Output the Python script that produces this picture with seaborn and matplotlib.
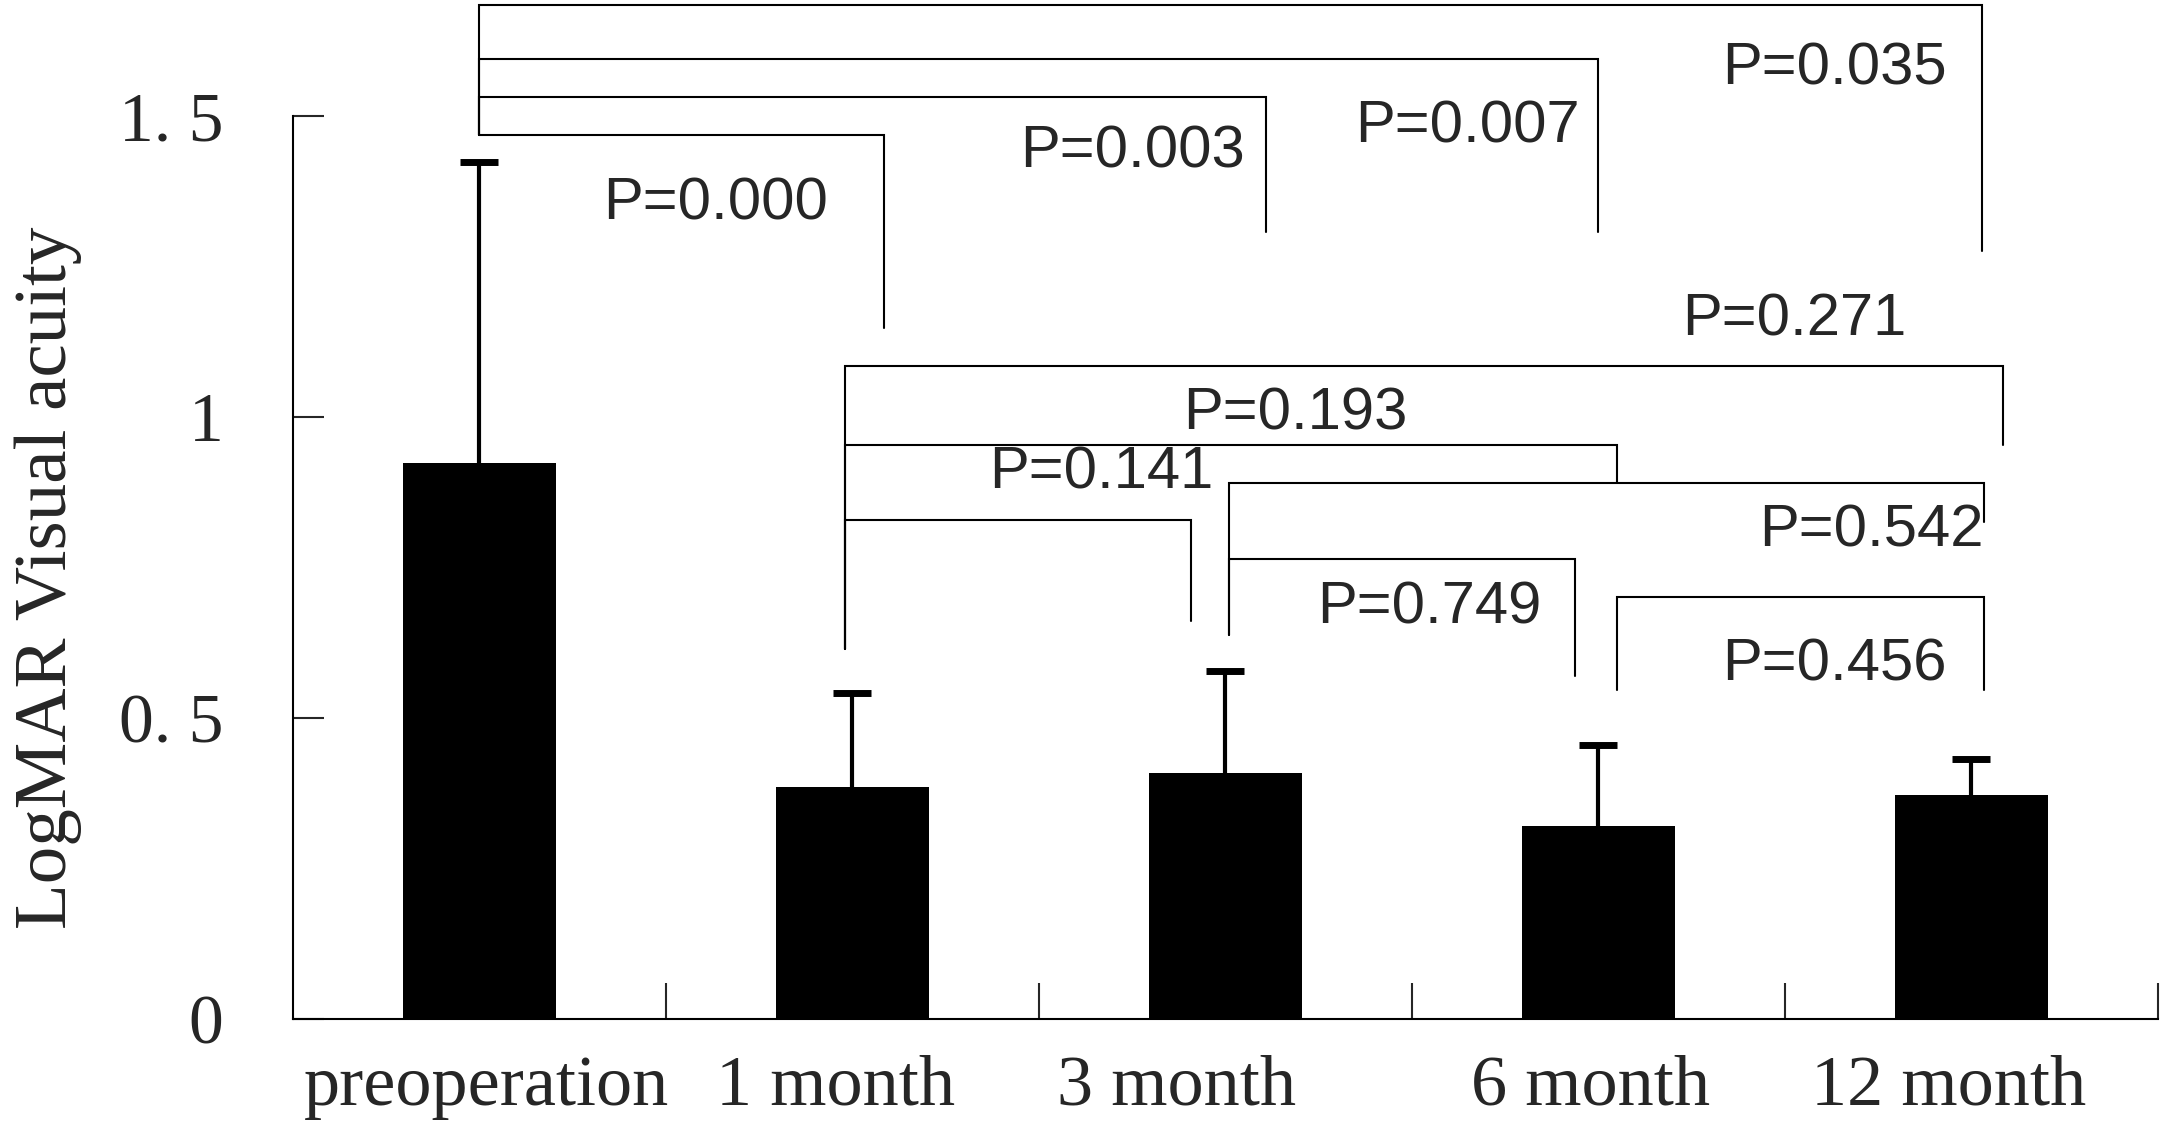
import numpy as np
import pandas as pd
import seaborn as sns
import matplotlib.pyplot as plt

categories = ["preoperation", "1 month", "3 month", "6 month", "12 month"]
mean_logmar = [0.924, 0.385, 0.408, 0.321, 0.372]
sd_logmar = [0.500, 0.156, 0.170, 0.133, 0.059]

# pairwise comparisons: (from group, to group, label)
pairs = [
    (0, 4, "P=0.035"),
    (0, 3, "P=0.007"),
    (0, 2, "P=0.003"),
    (0, 1, "P=0.000"),
    (1, 4, "P=0.271"),
    (1, 3, "P=0.193"),
    (1, 2, "P=0.141"),
    (2, 4, "P=0.542"),
    (2, 3, "P=0.749"),
    (3, 4, "P=0.456"),
]

# bracket layout: height, left dx, right dx, left leg end, right leg end, text x, text y
bracket_layout = [
    (1.685, 0.00, 0.03, 1.468, 1.275, 3.633, 1.578),
    (1.594, 0.00, 0.00, 1.468, 1.307, 2.648, 1.482),
    (1.532, 0.00, 0.11, 1.468, 1.307, 1.752, 1.440),
    (1.468, 0.00, 0.085, 1.468, 1.147, 0.633, 1.353),
    (1.085, -0.02, 0.085, 0.615, 0.954, 3.526, 1.161),
    (0.954, -0.02, 0.05, 0.615, 0.890, 2.189, 1.005),
    (0.828, -0.02, -0.093, 0.615, 0.661, 1.667, 0.906),
    (0.890, 0.01, 0.033, 0.638, 0.826, 3.733, 0.810),
    (0.764, 0.01, -0.063, 0.638, 0.569, 2.548, 0.683),
    (0.700, 0.05, 0.033, 0.546, 0.546, 3.633, 0.587),
]

xlabel_pos = [0.019, 0.956, 1.87, 2.98, 3.94]

sns.set_style("white")
serif = ["Liberation Serif", "DejaVu Serif"]
sans = ["Liberation Sans", "DejaVu Sans"]
plt.rcParams["font.family"] = serif

df = pd.DataFrame({"group": categories, "logmar": mean_logmar})

fig = plt.figure(figsize=(21.66, 11.43), dpi=100)
ax = fig.add_axes([0.1352, 0.1087, 0.8610, 0.7899])

sns.barplot(data=df, x="group", y="logmar", color="black", saturation=1,
            width=0.41, linewidth=0, errorbar=None, ax=ax)

# upper-only SD bars: stem plus a single cap at the top
xs = np.arange(len(categories))
tops = np.array(mean_logmar) + np.array(sd_logmar)
ax.errorbar(xs, mean_logmar, yerr=[np.zeros(len(sd_logmar)), sd_logmar],
            fmt="none", ecolor="black", elinewidth=3, capsize=0)
ax.plot(xs, tops, ls="none", marker="_", ms=28, mew=5, color="black")

for (i, j, p), (h, dl, dr, lb, rb, tx, ty) in zip(pairs, bracket_layout):
    xl, xr = i + dl, j + dr
    ax.plot([xl, xl, xr, xr], [lb, h, h, rb], color="black", lw=1.5,
            clip_on=False, solid_joinstyle="miter")
    ax.text(tx, ty, p, ha="center", va="center", fontsize=43, family=sans)

ax.set_xlim(-0.5, 4.5)
ax.set_ylim(0, 1.5)
sns.despine(ax=ax)
for s in ("left", "bottom"):
    ax.spines[s].set_linewidth(1.5)
    ax.spines[s].set_color("black")

ax.set_yticks([0, 0.5, 1, 1.5], labels=["0", "0. 5", "1", "1. 5"])
ax.tick_params(axis="y", direction="in", length=22, width=1.5, pad=50,
               labelsize=50, left=True)
ax.set_xticks(xlabel_pos, labels=categories)
ax.set_xticks([0.5, 1.5, 2.5, 3.5, 4.5], minor=True)
ax.tick_params(axis="x", which="major", length=0, pad=26, labelsize=52)
ax.tick_params(axis="x", which="minor", direction="in", length=26, width=1.5,
               bottom=True)

ax.set_xlabel("")
ax.set_ylabel("LogMAR Visual acuity", fontsize=54, va="center")
ax.yaxis.set_label_coords(-0.131, 0.488)

fig.savefig("out.png", dpi=100)
